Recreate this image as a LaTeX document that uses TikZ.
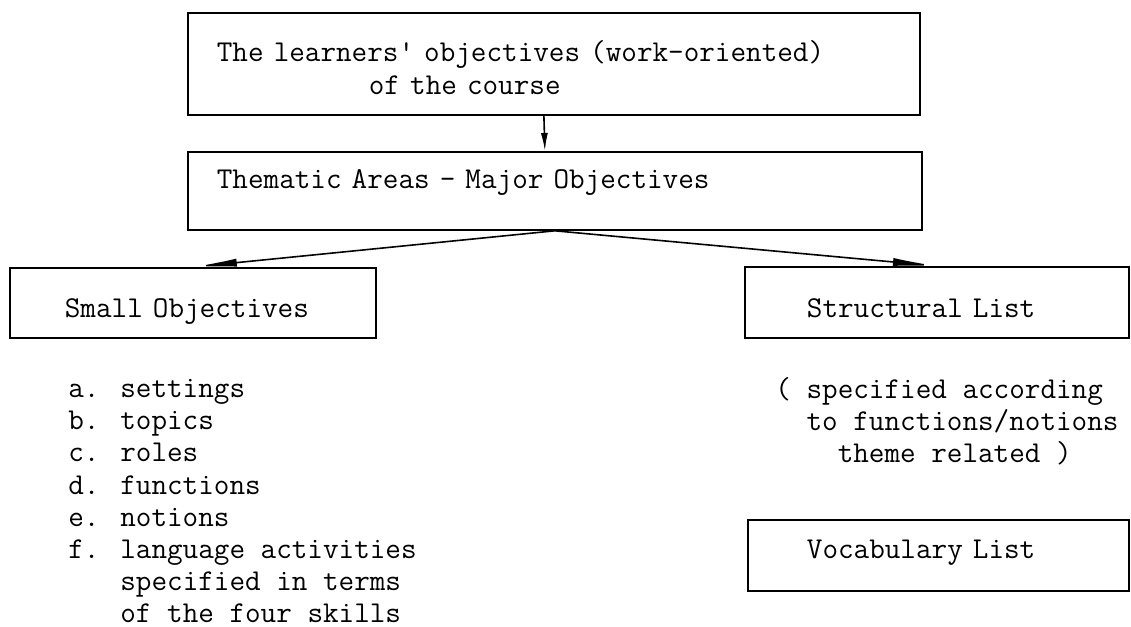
\documentclass[tikz,border=0pt]{standalone}
\usepackage{fontspec}
\usepackage{tikz}
\usetikzlibrary{arrows.meta}
\setlength\parindent{0pt}
\newcommand\planfont{\fontsize{15.14}{16.1}\selectfont\ttfamily}
\newcommand\linestrut[2]{\rule[-#2]{0pt}{\dimexpr#1+#2\relax}}
\tikzset{
  planbox/.style={draw,line width=0.9pt,anchor=north west,align=left,inner ysep=0pt,font=\planfont},
  plantext/.style={anchor=north west,align=left,inner sep=0pt,font=\planfont},
  leadlong/.style={line width=0.8pt,-{Latex[length=22pt,width=4pt]}},
  leadshort/.style={line width=0.8pt,-{Latex[length=9pt,width=3.5pt]}}
}
\begin{document}
\begin{tikzpicture}[x=0.5pt,y=-0.5pt]
        \useasboundingbox (0,0) rectangle (1131,627);
        %
        \node[planbox,inner xsep=14.5pt,text width=337pt] (goal) at (187,12)
          {\linestrut{24.5pt}{0pt}The learners' objectives (work-oriented)\\\hspace*{76pt}of the course\linestrut{0pt}{10.5pt}};
        \node[planbox,inner xsep=14.5pt,text width=338pt] (thematic) at (187,151)
          {\linestrut{18.5pt}{20.5pt}Thematic Areas - Major Objectives};
        \node[planbox,inner xsep=27.5pt,text width=128pt] (small) at (9,267)
          {\linestrut{25pt}{10pt}Small Objectives};
        \node[planbox,inner xsep=31pt,text width=130pt] (structural) at (744,266)
          {\linestrut{25.5pt}{10pt}Structural List};
        \node[planbox,inner xsep=29.5pt,text width=131.5pt] (vocab) at (747,519)
          {\linestrut{19.5pt}{16pt}Vocabulary List};
        %
        \node[plantext] (smalllist) at (68,377)
          {\linestrut{10pt}{0pt}a. settings\\b. topics\\c. roles\\d. functions\\e. notions\\f. language activities\\
           \phantom{f. }specified in terms\\\phantom{f. }of the four skills};
        \node[plantext] (structlist) at (775,377)
          {\linestrut{10pt}{0pt}( specified according\\\phantom{xx}to functions/notions\\\phantom{xxxx}theme related )};
        %
        \draw [leadshort] ([xshift=-5pt]goal.south) -- ([xshift=-5pt]thematic.north);
        \draw [leadlong] (thematic.south) -- (small.north);
        \draw [leadlong] (thematic.south) -- (structural.north);
        %
\end{tikzpicture}
\end{document}
